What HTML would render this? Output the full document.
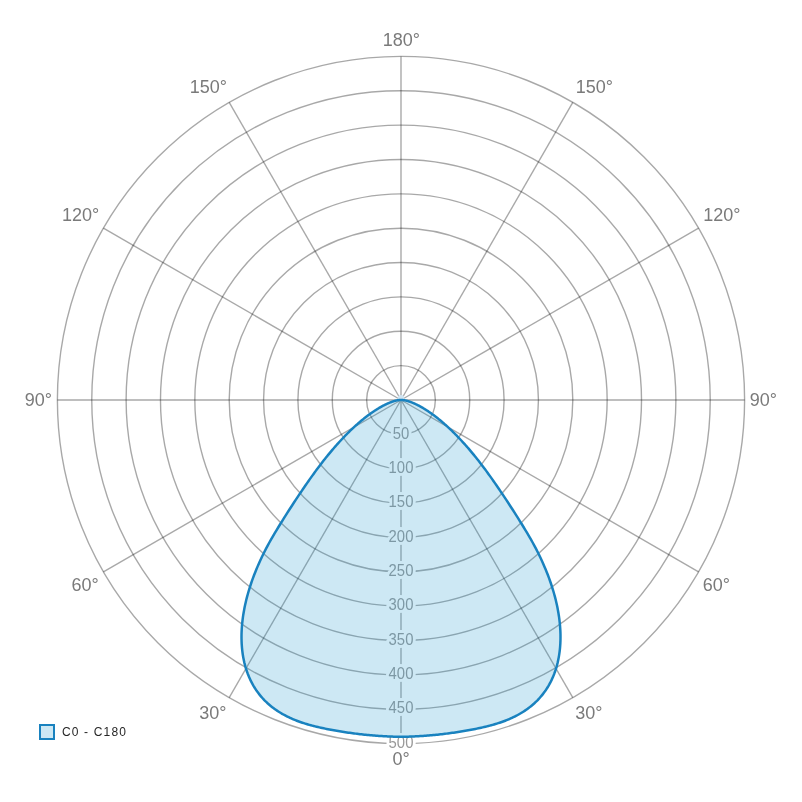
<!DOCTYPE html>
<html><head><meta charset="utf-8"><style>
html,body{margin:0;padding:0;background:#fff;width:802px;height:802px;overflow:hidden}
svg{display:block;will-change:transform}
.g circle,.g line{fill:none;stroke:rgba(0,0,0,0.34);stroke-width:1.4}
.al{font-family:"Liberation Sans",sans-serif;font-size:18px;fill:#7a7a7a;text-anchor:middle;letter-spacing:0px}
.rl{font-family:"Liberation Sans",sans-serif;font-size:15.8px;fill:#999;text-anchor:middle;stroke:#fff;stroke-width:6px;paint-order:stroke;stroke-linejoin:round}
.lg{font-family:"Liberation Sans",sans-serif;font-size:12px;fill:#262626;letter-spacing:1.15px}
</style></head><body>
<svg width="802" height="802" viewBox="0 0 802 802">
<g class="g">
<circle cx="401.0" cy="400.0" r="34.36"/>
<circle cx="401.0" cy="400.0" r="68.72"/>
<circle cx="401.0" cy="400.0" r="103.08"/>
<circle cx="401.0" cy="400.0" r="137.44"/>
<circle cx="401.0" cy="400.0" r="171.80"/>
<circle cx="401.0" cy="400.0" r="206.16"/>
<circle cx="401.0" cy="400.0" r="240.52"/>
<circle cx="401.0" cy="400.0" r="274.88"/>
<circle cx="401.0" cy="400.0" r="309.24"/>
<circle cx="401.0" cy="400.0" r="343.60"/>
<line x1="401.0" y1="400.0" x2="401.00" y2="56.40"/>
<line x1="401.0" y1="400.0" x2="572.80" y2="102.43"/>
<line x1="401.0" y1="400.0" x2="698.57" y2="228.20"/>
<line x1="401.0" y1="400.0" x2="744.60" y2="400.00"/>
<line x1="401.0" y1="400.0" x2="698.57" y2="571.80"/>
<line x1="401.0" y1="400.0" x2="572.80" y2="697.57"/>
<line x1="401.0" y1="400.0" x2="401.00" y2="743.60"/>
<line x1="401.0" y1="400.0" x2="229.20" y2="697.57"/>
<line x1="401.0" y1="400.0" x2="103.43" y2="571.80"/>
<line x1="401.0" y1="400.0" x2="57.40" y2="400.00"/>
<line x1="401.0" y1="400.0" x2="103.43" y2="228.20"/>
<line x1="401.0" y1="400.0" x2="229.20" y2="102.43"/>
</g>
<g class="rl">
<text x="401.0" y="438.56" textLength="16.53" lengthAdjust="spacingAndGlyphs">50</text>
<text x="401.0" y="472.92" textLength="24.80" lengthAdjust="spacingAndGlyphs">100</text>
<text x="401.0" y="507.28" textLength="24.80" lengthAdjust="spacingAndGlyphs">150</text>
<text x="401.0" y="541.64" textLength="24.80" lengthAdjust="spacingAndGlyphs">200</text>
<text x="401.0" y="576.00" textLength="24.80" lengthAdjust="spacingAndGlyphs">250</text>
<text x="401.0" y="610.36" textLength="24.80" lengthAdjust="spacingAndGlyphs">300</text>
<text x="401.0" y="644.72" textLength="24.80" lengthAdjust="spacingAndGlyphs">350</text>
<text x="401.0" y="679.08" textLength="24.80" lengthAdjust="spacingAndGlyphs">400</text>
<text x="401.0" y="713.44" textLength="24.80" lengthAdjust="spacingAndGlyphs">450</text>
<text x="401.0" y="747.80" textLength="24.80" lengthAdjust="spacingAndGlyphs">500</text>
</g>
<g class="al">
<text x="401.4" y="46.1">180°</text>
<text x="208.3" y="93.0">150°</text>
<text x="594.4" y="93.0">150°</text>
<text x="80.5" y="221.0">120°</text>
<text x="721.9" y="221.0">120°</text>
<text x="38.4" y="406.0">90°</text>
<text x="763.3" y="406.0">90°</text>
<text x="85.2" y="591.1">60°</text>
<text x="716.4" y="591.1">60°</text>
<text x="212.9" y="719.0">30°</text>
<text x="588.8" y="719.0">30°</text>
<text x="401" y="764.8">0°</text>
</g>
<circle cx="401" cy="398.3" r="3.3" fill="#d0e4f1"/>
<path d="M401.00,400.00 L401.32,400.00 L401.62,400.01 L401.88,400.01 L402.10,400.02 L402.28,400.03 L402.44,400.04 L402.58,400.05 L402.73,400.06 L402.88,400.07 L403.04,400.09 L403.20,400.11 L403.36,400.12 L403.53,400.14 L403.69,400.16 L403.86,400.19 L404.02,400.21 L404.19,400.24 L404.36,400.26 L404.54,400.29 L404.71,400.32 L404.89,400.36 L405.07,400.39 L405.25,400.43 L405.43,400.47 L405.62,400.51 L405.81,400.55 L406.00,400.59 L406.20,400.64 L406.40,400.69 L406.60,400.74 L406.81,400.79 L407.01,400.85 L407.23,400.90 L407.44,400.96 L407.66,401.03 L407.89,401.09 L408.11,401.16 L408.34,401.23 L408.58,401.30 L408.82,401.38 L409.06,401.46 L409.31,401.54 L409.56,401.63 L409.82,401.71 L410.08,401.81 L410.35,401.90 L410.62,402.00 L410.90,402.10 L411.18,402.21 L411.47,402.32 L411.76,402.43 L412.05,402.55 L412.36,402.67 L412.66,402.80 L412.98,402.93 L413.30,403.07 L413.62,403.21 L413.95,403.35 L414.29,403.50 L414.63,403.65 L414.98,403.81 L415.33,403.97 L415.69,404.14 L416.06,404.32 L416.43,404.50 L416.81,404.68 L417.20,404.88 L417.59,405.07 L417.99,405.28 L418.39,405.48 L418.81,405.70 L419.22,405.92 L419.65,406.15 L420.08,406.38 L420.52,406.63 L420.97,406.88 L421.42,407.13 L421.88,407.39 L422.35,407.66 L422.82,407.94 L423.30,408.23 L423.79,408.52 L424.29,408.82 L424.79,409.13 L425.30,409.45 L425.82,409.78 L426.35,410.11 L426.88,410.46 L427.42,410.81 L427.97,411.17 L428.52,411.54 L429.08,411.92 L429.65,412.31 L430.23,412.71 L430.82,413.12 L431.41,413.54 L432.01,413.97 L432.62,414.41 L433.24,414.86 L433.86,415.32 L434.49,415.79 L435.13,416.28 L435.78,416.77 L436.43,417.28 L437.09,417.80 L437.76,418.33 L438.44,418.87 L439.12,419.42 L439.82,419.99 L440.52,420.57 L441.22,421.16 L441.94,421.77 L442.66,422.39 L443.39,423.02 L444.13,423.66 L444.88,424.32 L445.64,425.00 L446.41,425.69 L447.18,426.39 L447.96,427.11 L448.76,427.85 L449.56,428.60 L450.37,429.37 L451.19,430.16 L452.02,430.96 L452.86,431.78 L453.70,432.61 L454.56,433.47 L455.43,434.34 L456.31,435.23 L457.20,436.15 L458.09,437.08 L459.00,438.03 L459.92,439.00 L460.85,439.99 L461.78,441.00 L462.73,442.03 L463.69,443.09 L464.66,444.16 L465.64,445.26 L466.63,446.38 L467.63,447.52 L468.64,448.69 L469.66,449.88 L470.69,451.10 L471.73,452.34 L472.78,453.60 L473.84,454.89 L474.92,456.21 L476.00,457.55 L477.09,458.92 L478.20,460.31 L479.31,461.73 L480.43,463.18 L481.57,464.66 L482.71,466.17 L483.86,467.70 L485.03,469.27 L486.21,470.87 L487.40,472.50 L488.61,474.17 L489.83,475.87 L491.08,477.62 L492.34,479.40 L493.62,481.23 L494.93,483.10 L496.26,485.02 L497.61,486.99 L498.99,489.01 L500.40,491.08 L501.83,493.20 L503.29,495.39 L504.78,497.63 L506.30,499.93 L507.86,502.29 L509.44,504.72 L511.06,507.22 L512.72,509.78 L514.41,512.42 L516.13,515.13 L517.90,517.92 L519.71,520.80 L521.55,523.75 L523.38,526.73 L525.24,529.78 L527.11,532.90 L528.97,536.03 L530.76,539.15 L532.50,542.25 L534.19,545.35 L535.83,548.44 L537.40,551.49 L538.91,554.52 L540.36,557.51 L541.75,560.49 L543.08,563.44 L544.36,566.38 L545.58,569.29 L546.76,572.18 L547.88,575.04 L548.95,577.89 L549.96,580.71 L550.93,583.51 L551.85,586.28 L552.72,589.03 L553.53,591.76 L554.30,594.47 L555.03,597.14 L555.70,599.80 L556.33,602.43 L556.91,605.03 L557.44,607.61 L557.93,610.16 L558.38,612.69 L558.78,615.19 L559.14,617.66 L559.45,620.10 L559.72,622.52 L559.96,624.92 L560.14,627.28 L560.29,629.62 L560.40,631.93 L560.47,634.21 L560.49,636.46 L560.48,638.68 L560.43,640.88 L560.35,643.05 L560.22,645.18 L560.06,647.29 L559.87,649.37 L559.64,651.42 L559.37,653.44 L559.07,655.43 L558.73,657.40 L558.36,659.33 L557.96,661.23 L557.53,663.10 L557.06,664.94 L556.57,666.75 L556.04,668.53 L555.48,670.28 L554.89,672.00 L554.28,673.69 L553.63,675.35 L552.95,676.98 L552.25,678.58 L551.53,680.14 L550.77,681.68 L549.99,683.18 L549.18,684.66 L548.35,686.10 L547.49,687.51 L546.61,688.89 L545.71,690.25 L544.79,691.57 L543.84,692.86 L542.87,694.12 L541.88,695.36 L540.87,696.57 L539.84,697.75 L538.79,698.90 L537.73,700.02 L536.64,701.12 L535.54,702.18 L534.42,703.23 L533.29,704.24 L532.14,705.23 L530.97,706.20 L529.79,707.14 L528.60,708.05 L527.39,708.94 L526.17,709.81 L524.94,710.65 L523.69,711.47 L522.43,712.27 L521.16,713.04 L519.88,713.79 L518.59,714.52 L517.29,715.23 L515.98,715.92 L514.66,716.58 L513.34,717.23 L512.00,717.86 L510.66,718.47 L509.30,719.06 L507.95,719.63 L506.58,720.19 L505.21,720.72 L503.83,721.24 L502.45,721.75 L501.06,722.24 L499.66,722.71 L498.26,723.16 L496.86,723.61 L495.45,724.04 L494.04,724.46 L492.62,724.86 L491.20,725.25 L489.78,725.63 L488.35,726.00 L486.92,726.36 L485.49,726.71 L484.06,727.04 L482.62,727.37 L481.19,727.69 L479.75,728.00 L478.31,728.31 L476.86,728.61 L475.42,728.90 L473.98,729.18 L472.53,729.46 L471.09,729.73 L469.64,730.00 L468.19,730.27 L466.75,730.53 L465.30,730.78 L463.85,731.03 L462.40,731.27 L460.95,731.51 L459.50,731.75 L458.04,731.98 L456.59,732.20 L455.14,732.42 L453.68,732.64 L452.23,732.85 L450.77,733.05 L449.32,733.25 L447.86,733.44 L446.41,733.63 L444.95,733.81 L443.49,733.99 L442.03,734.16 L440.57,734.33 L439.11,734.49 L437.65,734.65 L436.19,734.80 L434.73,734.95 L433.27,735.09 L431.80,735.22 L430.34,735.35 L428.88,735.48 L427.41,735.60 L425.95,735.71 L424.48,735.82 L423.02,735.92 L421.55,736.02 L420.09,736.11 L418.62,736.19 L417.15,736.27 L415.69,736.35 L414.22,736.41 L412.75,736.48 L411.28,736.53 L409.81,736.58 L408.35,736.63 L406.88,736.67 L405.41,736.70 L403.94,736.73 L402.47,736.75 L401.00,736.77 L399.53,736.75 L398.06,736.73 L396.59,736.70 L395.12,736.67 L393.65,736.63 L392.19,736.58 L390.72,736.53 L389.25,736.48 L387.78,736.41 L386.31,736.35 L384.85,736.27 L383.38,736.19 L381.91,736.11 L380.45,736.02 L378.98,735.92 L377.52,735.82 L376.05,735.71 L374.59,735.60 L373.12,735.48 L371.66,735.35 L370.20,735.22 L368.73,735.09 L367.27,734.95 L365.81,734.80 L364.35,734.65 L362.89,734.49 L361.43,734.33 L359.97,734.16 L358.51,733.99 L357.05,733.81 L355.59,733.63 L354.14,733.44 L352.68,733.25 L351.23,733.05 L349.77,732.85 L348.32,732.64 L346.86,732.42 L345.41,732.20 L343.96,731.98 L342.50,731.75 L341.05,731.51 L339.60,731.27 L338.15,731.03 L336.70,730.78 L335.25,730.53 L333.81,730.27 L332.36,730.00 L330.91,729.73 L329.47,729.46 L328.02,729.18 L326.58,728.90 L325.14,728.61 L323.69,728.31 L322.25,728.00 L320.81,727.69 L319.38,727.37 L317.94,727.04 L316.51,726.71 L315.08,726.36 L313.65,726.00 L312.22,725.63 L310.80,725.25 L309.38,724.86 L307.96,724.46 L306.55,724.04 L305.14,723.61 L303.74,723.16 L302.34,722.71 L300.94,722.24 L299.55,721.75 L298.17,721.24 L296.79,720.72 L295.42,720.19 L294.05,719.63 L292.70,719.06 L291.34,718.47 L290.00,717.86 L288.66,717.23 L287.34,716.58 L286.02,715.92 L284.71,715.23 L283.41,714.52 L282.12,713.79 L280.84,713.04 L279.57,712.27 L278.31,711.47 L277.06,710.65 L275.83,709.81 L274.61,708.94 L273.40,708.05 L272.21,707.14 L271.03,706.20 L269.86,705.23 L268.71,704.24 L267.58,703.23 L266.46,702.18 L265.36,701.12 L264.27,700.02 L263.21,698.90 L262.16,697.75 L261.13,696.57 L260.12,695.36 L259.13,694.12 L258.16,692.86 L257.21,691.57 L256.29,690.25 L255.39,688.89 L254.51,687.51 L253.65,686.10 L252.82,684.66 L252.01,683.18 L251.23,681.68 L250.47,680.14 L249.75,678.58 L249.05,676.98 L248.37,675.35 L247.72,673.69 L247.11,672.00 L246.52,670.28 L245.96,668.53 L245.43,666.75 L244.94,664.94 L244.47,663.10 L244.04,661.23 L243.64,659.33 L243.27,657.40 L242.93,655.43 L242.63,653.44 L242.36,651.42 L242.13,649.37 L241.94,647.29 L241.78,645.18 L241.65,643.05 L241.57,640.88 L241.52,638.68 L241.51,636.46 L241.53,634.21 L241.60,631.93 L241.71,629.62 L241.86,627.28 L242.04,624.92 L242.28,622.52 L242.55,620.10 L242.86,617.66 L243.22,615.19 L243.62,612.69 L244.07,610.16 L244.56,607.61 L245.09,605.03 L245.67,602.43 L246.30,599.80 L246.97,597.14 L247.70,594.47 L248.47,591.76 L249.28,589.03 L250.15,586.28 L251.07,583.51 L252.04,580.71 L253.05,577.89 L254.12,575.04 L255.24,572.18 L256.42,569.29 L257.64,566.38 L258.92,563.44 L260.25,560.49 L261.64,557.51 L263.09,554.52 L264.60,551.49 L266.17,548.44 L267.81,545.35 L269.50,542.25 L271.24,539.15 L273.03,536.03 L274.89,532.90 L276.76,529.78 L278.62,526.73 L280.45,523.75 L282.29,520.80 L284.10,517.92 L285.87,515.13 L287.59,512.42 L289.28,509.78 L290.94,507.22 L292.56,504.72 L294.14,502.29 L295.70,499.93 L297.22,497.63 L298.71,495.39 L300.17,493.20 L301.60,491.08 L303.01,489.01 L304.39,486.99 L305.74,485.02 L307.07,483.10 L308.38,481.23 L309.66,479.40 L310.92,477.62 L312.17,475.87 L313.39,474.17 L314.60,472.50 L315.79,470.87 L316.97,469.27 L318.14,467.70 L319.29,466.17 L320.43,464.66 L321.57,463.18 L322.69,461.73 L323.80,460.31 L324.91,458.92 L326.00,457.55 L327.08,456.21 L328.16,454.89 L329.22,453.60 L330.27,452.34 L331.31,451.10 L332.34,449.88 L333.36,448.69 L334.37,447.52 L335.37,446.38 L336.36,445.26 L337.34,444.16 L338.31,443.09 L339.27,442.03 L340.22,441.00 L341.15,439.99 L342.08,439.00 L343.00,438.03 L343.91,437.08 L344.80,436.15 L345.69,435.23 L346.57,434.34 L347.44,433.47 L348.30,432.61 L349.14,431.78 L349.98,430.96 L350.81,430.16 L351.63,429.37 L352.44,428.60 L353.24,427.85 L354.04,427.11 L354.82,426.39 L355.59,425.69 L356.36,425.00 L357.12,424.32 L357.87,423.66 L358.61,423.02 L359.34,422.39 L360.06,421.77 L360.78,421.16 L361.48,420.57 L362.18,419.99 L362.88,419.42 L363.56,418.87 L364.24,418.33 L364.91,417.80 L365.57,417.28 L366.22,416.77 L366.87,416.28 L367.51,415.79 L368.14,415.32 L368.76,414.86 L369.38,414.41 L369.99,413.97 L370.59,413.54 L371.18,413.12 L371.77,412.71 L372.35,412.31 L372.92,411.92 L373.48,411.54 L374.03,411.17 L374.58,410.81 L375.12,410.46 L375.65,410.11 L376.18,409.78 L376.70,409.45 L377.21,409.13 L377.71,408.82 L378.21,408.52 L378.70,408.23 L379.18,407.94 L379.65,407.66 L380.12,407.39 L380.58,407.13 L381.03,406.88 L381.48,406.63 L381.92,406.38 L382.35,406.15 L382.78,405.92 L383.19,405.70 L383.61,405.48 L384.01,405.28 L384.41,405.07 L384.80,404.88 L385.19,404.68 L385.57,404.50 L385.94,404.32 L386.31,404.14 L386.67,403.97 L387.02,403.81 L387.37,403.65 L387.71,403.50 L388.05,403.35 L388.38,403.21 L388.70,403.07 L389.02,402.93 L389.34,402.80 L389.64,402.67 L389.95,402.55 L390.24,402.43 L390.53,402.32 L390.82,402.21 L391.10,402.10 L391.38,402.00 L391.65,401.90 L391.92,401.81 L392.18,401.71 L392.44,401.63 L392.69,401.54 L392.94,401.46 L393.18,401.38 L393.42,401.30 L393.66,401.23 L393.89,401.16 L394.11,401.09 L394.34,401.03 L394.56,400.96 L394.77,400.90 L394.99,400.85 L395.19,400.79 L395.40,400.74 L395.60,400.69 L395.80,400.64 L396.00,400.59 L396.19,400.55 L396.38,400.51 L396.57,400.47 L396.75,400.43 L396.93,400.39 L397.11,400.36 L397.29,400.32 L397.46,400.29 L397.64,400.26 L397.81,400.24 L397.98,400.21 L398.14,400.19 L398.31,400.16 L398.47,400.14 L398.64,400.12 L398.80,400.11 L398.96,400.09 L399.12,400.07 L399.27,400.06 L399.42,400.05 L399.56,400.04 L399.72,400.03 L399.90,400.02 L400.12,400.01 L400.38,400.01 L400.68,400.00 L401.00,400.00 Z" fill="rgba(28,150,205,0.22)" stroke="#1982bf" stroke-width="2.5" stroke-linejoin="round"/>
<rect x="40" y="725" width="14" height="14" fill="rgba(28,150,205,0.22)" stroke="#1982bf" stroke-width="2"/>
<text class="lg" x="62" y="736">C0 - C180</text>
</svg>
</body></html>
